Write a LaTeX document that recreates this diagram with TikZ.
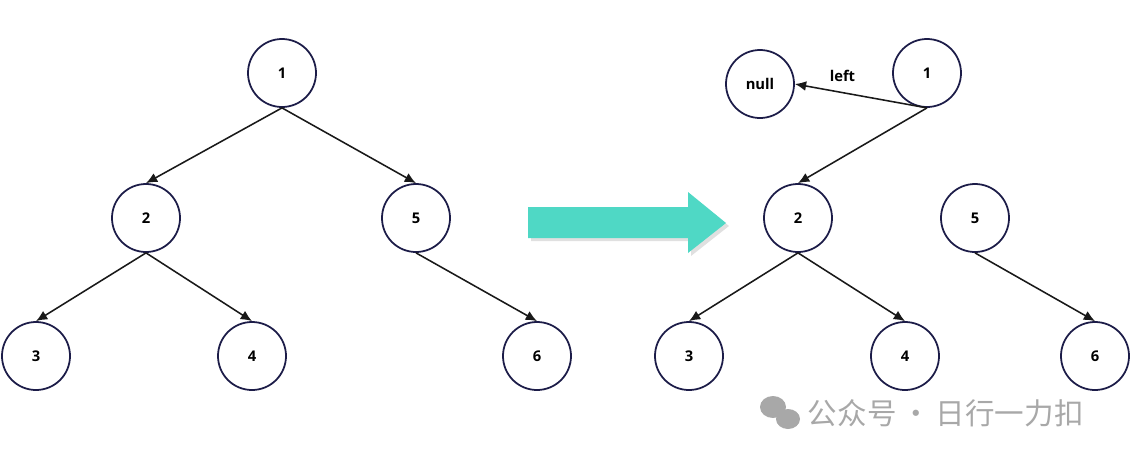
\documentclass[tikz,border=0pt]{standalone}
\usepackage{fontspec}
\setmainfont{Open Sans}
\newfontfamily\cjkfont{Noto Sans CJK SC}
\usetikzlibrary{arrows.meta}
\definecolor{nodeborder}{HTML}{1C1C48}
\definecolor{bigarrow}{HTML}{4FD8C5}
\definecolor{markgray}{HTML}{A8A8A8}

\begin{document}
\begin{tikzpicture}[
  x=0.025cm, y=-0.025cm,
  treenode/.style={circle, draw=nodeborder, line width=1.25pt, fill=white, minimum size=1.7cm, inner sep=0pt, font=\bfseries\fontsize{10.5}{12}\selectfont},
  treeedge/.style={draw=black!90, line width=1.1pt, -{Latex[length=8pt,width=7pt]}}
]
  \useasboundingbox (0,0) rectangle (1140,461);

  % before
  \node[treenode] (a1) at (282,73) {1};
  \node[treenode] (a2) at (146,218) {2};
  \node[treenode] (a5) at (416,218) {5};
  \node[treenode] (a3) at (36,356) {3};
  \node[treenode] (a4) at (252,356) {4};
  \node[treenode] (a6) at (537,356) {6};
  \draw[treeedge] (a1.south) -- (a2.north);
  \draw[treeedge] (a1.south) -- (a5.north);
  \draw[treeedge] (a2.south) -- (a3.north);
  \draw[treeedge] (a2.south) -- (a4.north);
  \draw[treeedge] (a5.south) -- (a6.north);

  % big arrow
  \fill[black!12] (531,210) -- (691,210) -- (691,195) -- (729,226) -- (691,256) -- (691,241) -- (531,241) -- cycle;
  \fill[bigarrow] (528,207) -- (688,207) -- (688,192) -- (726,223) -- (688,253) -- (688,238) -- (528,238) -- cycle;

  % after
  \node[treenode] (bnull) at (760,84) {null};
  \node[treenode] (b1) at (927,73) {1};
  \node[treenode] (b2) at (798,218) {2};
  \node[treenode] (b5) at (975,218) {5};
  \node[treenode] (b3) at (689,356) {3};
  \node[treenode] (b4) at (905,356) {4};
  \node[treenode] (b6) at (1095,356) {6};
  \draw[treeedge] (b1.south) -- node[above, pos=0.64, font=\bfseries\fontsize{10.5}{12}\selectfont, yshift=4pt] {left} (bnull.east);
  \draw[treeedge] (b1.south) -- (b2.north);
  \draw[treeedge] (b2.south) -- (b3.north);
  \draw[treeedge] (b2.south) -- (b4.north);
  \draw[treeedge] (b5.south) -- (b6.north);

  % watermark
  \fill[markgray] (773,407) ellipse (13 and 11);
  \fill[markgray] (788,419) ellipse (12 and 10);
  \node[anchor=west, text=markgray, font=\cjkfont\fontsize{21}{24}\selectfont] (mark) at (803,413) {公众号\,·\,日行一力扣};
\end{tikzpicture}
\end{document}
